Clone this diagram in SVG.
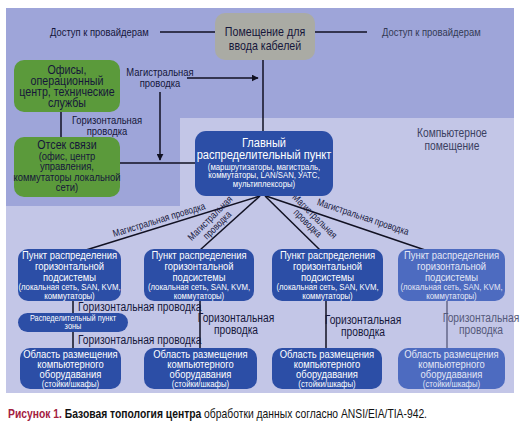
<svg xmlns="http://www.w3.org/2000/svg" width="530" height="432" viewBox="0 0 530 432">
<style>
text{font-family:"Liberation Sans",Arial,sans-serif}
.lbl{fill:#15163a;font-size:11.5px}
.lblg{fill:#55597a;font-size:12px}
.w{fill:#ffffff;text-anchor:middle}
.wf{fill:#e4e7f5;text-anchor:middle}
.d{fill:#15163a;text-anchor:middle}
.t{font-size:12.5px}
.tb{font-size:11.5px}
.s{font-size:9.5px}
.c{text-anchor:middle}
.ln{stroke:#111122;stroke-width:1.5;fill:none}
.lng{stroke:#55597a;stroke-width:1.3;fill:none}
.blue{fill:#2c4ea6}
.bluef{fill:#4d6bc0}
.green{fill:#5b9a3b}
</style>
<defs>
<marker id="ah" viewBox="0 0 10 10" refX="9" refY="5" markerWidth="7" markerHeight="7" markerUnits="userSpaceOnUse" orient="auto">
<path d="M0,0 L10,5 L0,10 z" fill="#111122"/>
</marker>
</defs>
<rect x="0" y="0" width="530" height="432" fill="#ffffff"/>
<rect x="6" y="8" width="508" height="385" fill="#9ea5d9"/>
<path d="M180,118 H514 V393 H6 V206 H180 Z" fill="#c3c6e7"/>

<g id="connectors">
<line class="ln" x1="160" y1="32" x2="215" y2="32"/>
<line class="ln" x1="315" y1="32" x2="367" y2="32"/>
<line class="ln" x1="263" y1="60" x2="263" y2="131"/>
<line class="ln" x1="61" y1="112" x2="61" y2="137"/>
<line class="ln" x1="120" y1="163" x2="195" y2="163"/>
<line class="ln" x1="187" y1="78" x2="258" y2="78" marker-end="url(#ah)"/>
<line class="ln" x1="160" y1="92" x2="160" y2="160" marker-end="url(#ah)"/>
<line class="ln" x1="260" y1="196" x2="86" y2="250"/>
<line class="ln" x1="260" y1="196" x2="200" y2="250"/>
<line class="ln" x1="265" y1="196" x2="320" y2="250"/>
<line class="ln" x1="266" y1="196" x2="425" y2="250"/>
<line class="ln" x1="73" y1="301" x2="73" y2="348"/>
<line class="ln" x1="200" y1="301" x2="200" y2="348"/>
<line class="ln" x1="326" y1="301" x2="326" y2="348"/>
<line class="lng" x1="447" y1="301" x2="447" y2="348"/>
</g>

<g id="labels">
<g transform="translate(50 0) scale(0.82 1)"><text class="lbl" y="36">Доступ к провайдерам</text></g>
<g transform="translate(382 0) scale(0.82 1)"><text class="lbl" y="36" style="fill:#333a55">Доступ к провайдерам</text></g>
<g transform="translate(160 0) scale(0.82 1)"><text class="lbl c" y="76">Магистральная</text><text class="lbl c" y="87">проводка</text></g>
<g transform="translate(107 0) scale(0.82 1)"><text class="lbl c" y="124">Горизонтальная</text><text class="lbl c" y="135">проводка</text></g>
<g transform="translate(452 0) scale(0.82 1)"><text class="lbl c" y="137" style="fill:#3a4060;font-size:12.5px">Компьютерное</text><text class="lbl c" y="150" style="fill:#3a4060;font-size:12.5px">помещение</text></g>
<g transform="translate(160 223) rotate(-17) scale(0.82 1)"><text class="lbl c" style="font-size:10px">Магистральная проводка</text></g>
<g transform="translate(216 224) rotate(-45) scale(0.82 1)"><text class="lbl c" style="font-size:10px"><tspan x="0" y="-5">Магистральная</tspan><tspan x="0" y="5">проводка</tspan></text></g>
<g transform="translate(309 222) rotate(45) scale(0.82 1)"><text class="lbl c" style="font-size:10px"><tspan x="0" y="-5">Магистральная</tspan><tspan x="0" y="5">проводка</tspan></text></g>
<g transform="translate(362 220) rotate(18.5) scale(0.82 1)"><text class="lbl c" style="font-size:10px">Магистральная проводка</text></g>
<g transform="translate(78 0) scale(0.82 1)"><text class="lbl" y="311" style="font-size:12.5px">Горизонтальная проводка</text><text class="lbl" y="344" style="font-size:12.5px">Горизонтальная проводка</text></g>
<g transform="translate(236 0) scale(0.82 1)"><text class="lbl c" y="322" style="font-size:12.5px">Горизонтальная</text><text class="lbl c" y="334" style="font-size:12.5px">проводка</text></g>
<g transform="translate(363 0) scale(0.82 1)"><text class="lbl c" y="324" style="font-size:12.5px">Горизонтальная</text><text class="lbl c" y="336" style="font-size:12.5px">проводка</text></g>
<g transform="translate(481 0) scale(0.82 1)"><text class="lblg c" y="322" style="font-size:12.5px">Горизонтальная</text><text class="lblg c" y="334" style="font-size:12.5px">проводка</text></g>
</g>

<g id="cable-entrance">
<rect x="215" y="13" width="100" height="47" rx="10" fill="#aaaba4"/>
<g transform="translate(265 0) scale(0.82 1)">
<text class="t d" y="36" style="font-size:13px">Помещение для</text>
<text class="t d" y="50" style="font-size:13px">ввода кабелей</text>
</g>
</g>

<g id="offices">
<rect x="14" y="60" width="106" height="52" rx="10" class="green"/>
<g transform="translate(67 0) scale(0.82 1)">
<text class="t d" y="74.5" style="font-size:13px">Офисы,</text>
<text class="t d" y="85.5" style="font-size:13px">операционный</text>
<text class="t d" y="96.5" style="font-size:13px">центр, технические</text>
<text class="t d" y="107.5" style="font-size:13px">службы</text>
</g>
</g>

<g id="telecom-room">
<rect x="14" y="137" width="106" height="60" rx="10" class="green"/>
<g transform="translate(67 0) scale(0.82 1)">
<text class="t d" y="149.5" style="font-size:13px">Отсек связи</text>
<text class="tb d" y="160">(офис, центр</text>
<text class="tb d" y="170.5">управления,</text>
<text class="tb d" y="181">коммутаторы локальной</text>
<text class="tb d" y="191.5">сети)</text>
</g>
</g>

<g id="mda">
<rect x="195" y="131" width="138" height="65" rx="11" class="blue"/>
<g transform="translate(264 0) scale(0.82 1)">
<text class="w" y="147.5" style="font-size:13.5px">Главный</text>
<text class="w" y="159.5" style="font-size:13.5px">распределительный пункт</text>
<text class="w s" y="170">(маршрутизаторы, магистраль,</text>
<text class="w s" y="178.5">коммутаторы, LAN/SAN, УАТС,</text>
<text class="w s" y="187.5">мультиплексоры)</text>
</g>
</g>

<g id="hda1">
<rect x="18" y="249" width="103" height="52" rx="10" class="blue"/>
<g transform="translate(69.5 0) scale(0.82 1)">
<text class="w tb" y="259">Пункт распределения</text>
<text class="w tb" y="270">горизонтальной</text>
<text class="w tb" y="281">подсистемы</text>
<text class="w s" y="290.5">(локальная сеть, SAN, KVM,</text>
<text class="w s" y="299">коммутаторы)</text>
</g>
</g>
<g id="hda2">
<rect x="144" y="249" width="110" height="52" rx="10" class="blue"/>
<g transform="translate(199 0) scale(0.82 1)">
<text class="w tb" y="259">Пункт распределения</text>
<text class="w tb" y="270">горизонтальной</text>
<text class="w tb" y="281">подсистемы</text>
<text class="w s" y="290.5">(локальная сеть, SAN, KVM,</text>
<text class="w s" y="299">коммутаторы)</text>
</g>
</g>
<g id="hda3">
<rect x="272" y="249" width="111" height="52" rx="10" class="blue"/>
<g transform="translate(327.5 0) scale(0.82 1)">
<text class="w tb" y="259">Пункт распределения</text>
<text class="w tb" y="270">горизонтальной</text>
<text class="w tb" y="281">подсистемы</text>
<text class="w s" y="290.5">(локальная сеть, SAN, KVM,</text>
<text class="w s" y="299">коммутаторы)</text>
</g>
</g>
<g id="hda4">
<rect x="398" y="249" width="107" height="52" rx="10" class="bluef"/>
<g transform="translate(451.5 0) scale(0.82 1)">
<text class="wf tb" y="259">Пункт распределения</text>
<text class="wf tb" y="270">горизонтальной</text>
<text class="wf tb" y="281">подсистемы</text>
<text class="wf s" y="290.5">(локальная сеть, SAN, KVM,</text>
<text class="wf s" y="299">коммутаторы)</text>
</g>
</g>

<g id="zda">
<rect x="18" y="313" width="110" height="19" rx="9.5" class="blue"/>
<g transform="translate(73 0) scale(0.82 1)">
<text class="w" y="321" style="font-size:9px">Распеделительный пункт</text>
<text class="w" y="329.5" style="font-size:9px">зоны</text>
</g>
</g>

<g id="eda1">
<rect x="20" y="348" width="101" height="41" rx="10" class="blue"/>
<g transform="translate(70.5 0) scale(0.82 1)">
<text class="w tb" y="358">Область размещения</text>
<text class="w tb" y="368">компьютерного</text>
<text class="w tb" y="378">оборудавания</text>
<text class="w s" y="387">(стойки/шкафы)</text>
</g>
</g>
<g id="eda2">
<rect x="144" y="348" width="113" height="41" rx="10" class="blue"/>
<g transform="translate(200.5 0) scale(0.82 1)">
<text class="w tb" y="358">Область размещения</text>
<text class="w tb" y="368">компьютерного</text>
<text class="w tb" y="378">оборудавания</text>
<text class="w s" y="387">(стойки/шкафы)</text>
</g>
</g>
<g id="eda3">
<rect x="272" y="348" width="110" height="41" rx="10" class="blue"/>
<g transform="translate(327 0) scale(0.82 1)">
<text class="w tb" y="358">Область размещения</text>
<text class="w tb" y="368">компьютерного</text>
<text class="w tb" y="378">оборудавания</text>
<text class="w s" y="387">(стойки/шкафы)</text>
</g>
</g>
<g id="eda4">
<rect x="398" y="348" width="107" height="41" rx="10" class="bluef"/>
<g transform="translate(451.5 0) scale(0.82 1)">
<text class="wf tb" y="358">Область размещения</text>
<text class="wf tb" y="368">компьютерного</text>
<text class="wf tb" y="378">оборудавания</text>
<text class="wf s" y="387">(стойки/шкафы)</text>
</g>
</g>

<g id="caption">
<text x="8" y="418" style="font-size:13px" textLength="419" lengthAdjust="spacingAndGlyphs"><tspan fill="#a3203f" font-weight="bold">Рисунок 1.</tspan><tspan fill="#111111" font-weight="bold"> Базовая топология центра</tspan><tspan fill="#111111"> обработки данных согласно ANSI/EIA/TIA-942.</tspan></text>
</g>
</svg>
